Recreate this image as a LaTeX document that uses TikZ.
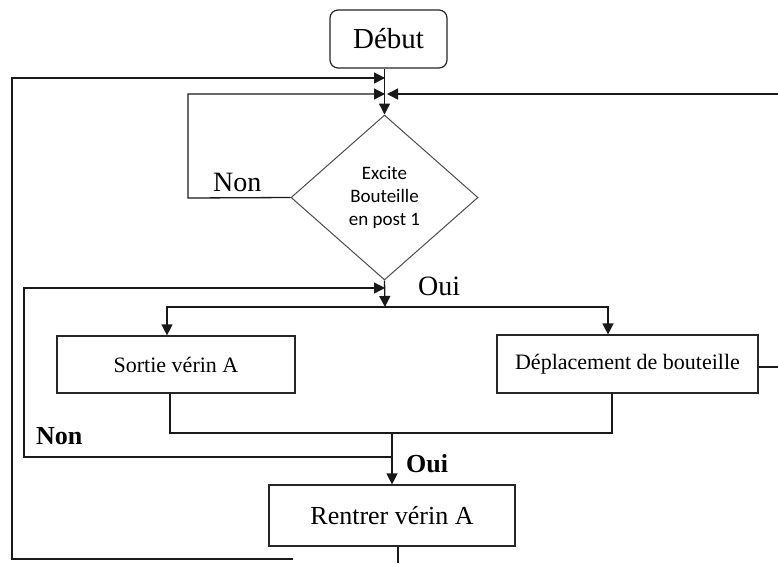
\documentclass[tikz,border=0pt]{standalone}
\usepackage{fontspec}
\setmainfont{Liberation Serif}
\newfontfamily\calibri{Carlito}
\usetikzlibrary{arrows.meta,shapes.geometric}

\tikzset{
  box/.style={draw=black!85, line width=1.2pt, rectangle, inner sep=0pt},
  startbox/.style={box, rounded corners=8pt},
  decision/.style={draw=black!70, line width=1pt, diamond, inner sep=0pt,
    align=center, font=\calibri\fontsize{19}{23}\selectfont},
  link/.style={draw=black!90, line width=1.3pt},
  arr/.style={link, -{Triangle[length=11pt,width=11pt]}},
  lbl/.style={inner sep=0pt, anchor=base west, font=\fontsize{28}{32}\selectfont},
  blbl/.style={lbl, font=\bfseries\fontsize{26}{30}\selectfont},
}

\begin{document}
\begin{tikzpicture}[x=1pt,y=-1pt]
  \useasboundingbox[fill=white] (0,0) rectangle (778,563);

  % blocks
  \node[startbox, minimum width=117pt, minimum height=58pt,
        font=\fontsize{29}{33}\selectfont] (debut) at (388.5,39) {Début};
  \node[decision, minimum width=187pt, minimum height=165pt] (dia) at (384.5,197.5)
        {Excite\\Bouteille\\en post 1};
  \node[box, minimum width=238pt, minimum height=57pt,
        font=\fontsize{22}{26}\selectfont] (sortie) at (176,364.5) {Sortie vérin A};
  \node[box, minimum width=261pt, minimum height=58pt,
        font=\fontsize{22}{26}\selectfont] (depl) at (627.5,364) {Déplacement de bouteille};
  \node[box, minimum width=246pt, minimum height=61pt,
        font=\fontsize{26}{30}\selectfont] (rentrer) at (392,515.5) {Rentrer vérin A};

  % junction points
  \coordinate (inA) at (385,78);
  \coordinate (inB) at (385,94);
  \coordinate (inC) at (387,94);
  \coordinate (inD) at (385,288);
  \coordinate (split) at (385,307);
  \coordinate (merge) at (392,433);
  \coordinate (nonJ) at (392,457);
  \coordinate (outL) at (12,559);
  \coordinate (outEnd) at (293,559);
  \coordinate (nonL) at (188,198);
  \coordinate (retL) at (24,457);
  \coordinate (rEdgeTop) at (778,94);
  \coordinate (rEdgeMid) at (778,367);
  \coordinate (rOut) at (398,563);
  \coordinate (sx) at (167,0);
  \coordinate (dx) at (608,0);
  \coordinate (sb) at (170,0);
  \coordinate (db) at (612,0);

  % main flow
  \draw[arr] (debut.south -| dia.north) -- (dia.north);
  \draw[arr] (dia.south) -- (split);
  \draw[arr] (split) -| (sortie.north -| sx);
  \draw[arr] (split) -| (depl.north -| dx);
  \draw[link] (sortie.south -| sb) |- (merge) -| (depl.south -| db);
  \draw[arr] (merge) -- (rentrer.north);
  \draw[link] (rentrer.south -| rOut) -- (rOut);

  % return loops
  \draw[arr] (outEnd) -- (outL) |- (inA);
  \draw[arr] (dia.west) -- (nonL) |- (inB);
  \draw[arr] (rEdgeTop) -- (inC);
  \draw[link] (depl.east |- rEdgeMid) -- (rEdgeMid);
  \draw[arr] (nonJ) -- (retL) |- (inD);

  % branch labels
  \node[lbl] (non1) at (213,191) {Non};
  \node[lbl] (oui1) at (418,295) {Oui};
  \node[blbl] (non2) at (36,444) {Non};
  \node[blbl] (oui2) at (406,472) {Oui};
\end{tikzpicture}
\end{document}
